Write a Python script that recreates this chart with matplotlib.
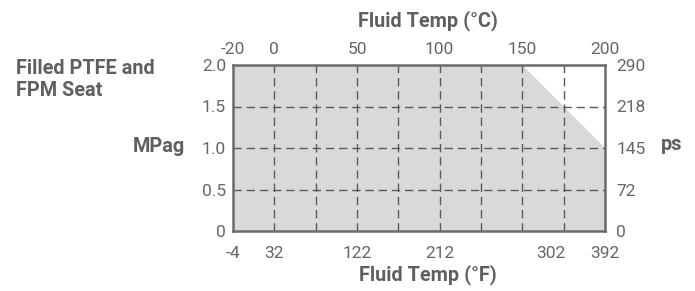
import numpy as np
import matplotlib
matplotlib.use("Agg")
import matplotlib.pyplot as plt

plt.rcParams['font.family'] = ['Roboto', 'DejaVu Sans']

# rating curve (deg C -> MPag)
temp_c = [-20, 150, 200]
press_mpa = [2.0, 2.0, 1.0]

# axis ticks
c_ticks = [-20, 0, 50, 100, 150, 200]
c_pos = [0, 1, 3, 5, 7, 9]          # where each deg C label sits on the grid
f_labels = ['-4', '32', '122', '212', '302', '392']
f_pos = [0, 1, 3, 5, 7.7, 9]
mpa_ticks = [0, 0.5, 1.0, 1.5, 2.0]
mpa_labels = ['0', '0.5', '1.0', '1.5', '2.0']
psi_labels = ['0', '72', '145', '218', '290']

txt = '#666666'
dark = '#5f5f5f'
bold_size = 14.3

fig = plt.figure(figsize=(6.95, 2.91), dpi=100)
ax = fig.add_axes([233 / 695, 1 - 231 / 291, 372 / 695, 166 / 291])

x = np.interp(temp_c, c_ticks, c_pos)
ax.fill_between(x, 0, press_mpa, color='#d9d9d9', lw=0, zorder=1)

for gx in range(1, 9):
    ax.axvline(gx, color='#5a5a5a', lw=1, ls=(0, (6, 3.5)), zorder=2)
for gy in mpa_ticks[1:-1]:
    ax.axhline(gy, color='#5a5a5a', lw=1, ls=(0, (6, 3.5)), zorder=2)

ax.set_xlim(0, 9)
ax.set_ylim(0, 2.0)
for s in ax.spines.values():
    s.set_color('#6b6b6b')
    s.set_linewidth(1.8)
    s.set_zorder(3)

ax.set_xticks(f_pos)
ax.set_xticklabels(f_labels)
ax.set_yticks(mpa_ticks)
ax.set_yticklabels(mpa_labels)
ax.tick_params(axis='x', length=0, pad=11, labelsize=12.5, labelcolor=txt)
ax.tick_params(axis='y', length=0, pad=5, labelsize=12.5, labelcolor=txt)

top = ax.twiny()
top.set_xlim(0, 9)
top.set_xticks(c_pos)
top.set_xticklabels([str(c) for c in c_ticks])
top.tick_params(length=0, pad=6, labelsize=12.5, labelcolor=txt)

right = ax.twinx()
right.set_ylim(0, 2.0)
right.set_yticks(mpa_ticks)
right.set_yticklabels(psi_labels)
right.tick_params(length=0, pad=8, labelsize=12.5, labelcolor=txt)
for a in (top, right):
    for s in a.spines.values():
        s.set_visible(False)

fig.text(428 / 695, 1 - 21 / 291, 'Fluid Temp (°C)', ha='center', va='center',
         fontsize=bold_size, fontweight='bold', color=dark)
fig.text(428 / 695, 1 - 275 / 291, 'Fluid Temp (°F)', ha='center', va='center',
         fontsize=bold_size, fontweight='bold', color=dark)
fig.text(185 / 695, 1 - 147 / 291, 'MPag', ha='right', va='center',
         fontsize=bold_size, fontweight='bold', color=dark)
fig.text(661 / 695, 1 - 145 / 291, 'ps', ha='left', va='center',
         fontsize=bold_size, fontweight='bold', color=dark)
fig.text(16 / 695, 1 - 80 / 291, 'Filled PTFE and\nFPM Seat', ha='left', va='center',
         fontsize=bold_size, fontweight='bold', color=dark, linespacing=1.2)

fig.savefig('out.png', dpi=100, facecolor='white')
